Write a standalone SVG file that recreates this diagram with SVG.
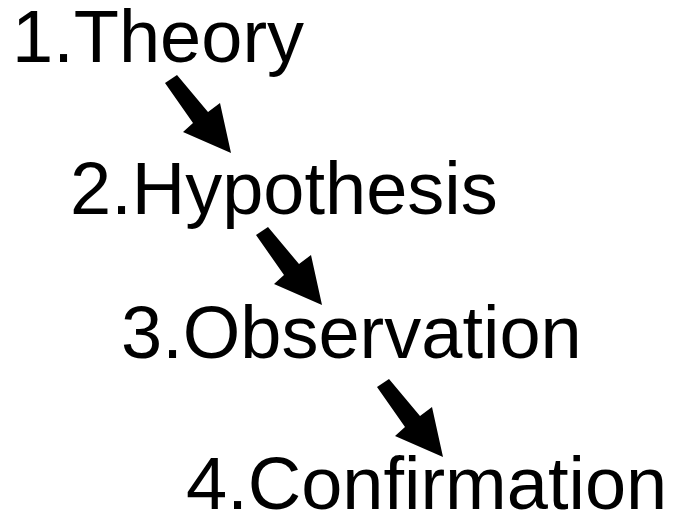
<svg xmlns="http://www.w3.org/2000/svg" xmlns:xlink="http://www.w3.org/1999/xlink" width="673" height="523" viewBox="0 0 673 523">
<style>
.t{font-family:"Liberation Sans",Arial,sans-serif;font-size:74px;fill:#000}
.a{fill:#000}
</style>
<defs>
<polygon id="arr" class="a" points="165,83 193,123 183,132 231,153 220,103 208,112 177,75"/>
</defs>
<rect width="673" height="523" fill="#fff"/>
<g id="connectors">
<use xlink:href="#arr"/>
<use xlink:href="#arr" transform="translate(91,152)"/>
<use xlink:href="#arr" transform="translate(212,304)"/>
</g>
<g id="n1"><text class="t" x="12" y="62">1.Theory</text></g>
<g id="n2"><text class="t" x="70" y="214">2.Hypothesis</text></g>
<g id="n3"><text class="t" x="121" y="358">3.Observation</text></g>
<g id="n4"><text class="t" x="186" y="509">4.Confirmation</text></g>
</svg>
